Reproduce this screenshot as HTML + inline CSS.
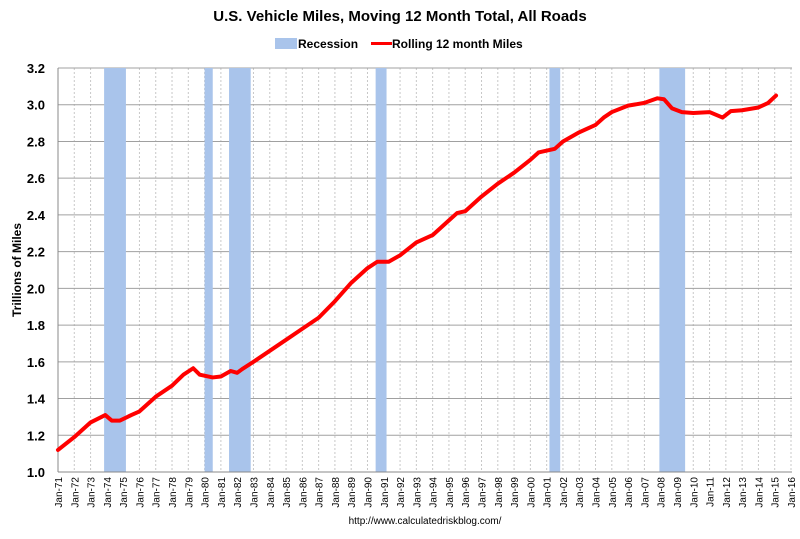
<!DOCTYPE html>
<html><head><meta charset="utf-8"><style>
body{margin:0;background:#fff;font-family:"Liberation Sans",sans-serif}
svg text{font-family:"Liberation Sans",sans-serif}
</style></head><body>
<svg id="c" width="800" height="534">
<text x="400" y="21" text-anchor="middle" font-size="15" font-weight="bold">U.S. Vehicle Miles, Moving 12 Month Total, All Roads</text>
<g>
<rect x="275" y="38" width="22" height="11" fill="#a9c4eb"/>
<text x="298" y="48" font-size="12" font-weight="bold">Recession</text>
<line x1="371" y1="43.5" x2="392" y2="43.5" stroke="#f00" stroke-width="3"/>
<text x="392" y="48" font-size="12" font-weight="bold">Rolling 12 month Miles</text>
</g>
<g id="plot"></g>
<text transform="translate(21,270) rotate(-90)" text-anchor="middle" font-size="12" font-weight="bold">Trillions of Miles</text>
<text x="425" y="524" text-anchor="middle" font-size="10">http://www.calculatedriskblog.com/</text>
</svg>
<script>
const recStart=[1973.83,1980.0,1981.5,1990.5,2001.17,2007.92];
const recEnd=[1975.17,1980.5,1982.83,1991.17,2001.83,2009.5];
const years=[1971,1972,1973,1973.9,1974.3,1974.8,1975.5,1976,1977,1978,1978.7,1979.3,1979.7,1980.5,1981,1981.6,1982,1982.3,1983,1984,1985,1986,1987,1988,1989,1990,1990.6,1991.3,1992,1993,1994,1995,1995.5,1996,1997,1998,1999,2000,2000.5,2001.5,2002,2003,2004,2004.5,2005,2006,2007,2007.8,2008.2,2008.7,2009.3,2010,2011,2011.8,2012.3,2013,2014,2014.6,2015.08];
const miles=[1.12,1.19,1.27,1.31,1.28,1.28,1.31,1.33,1.41,1.47,1.53,1.565,1.53,1.515,1.52,1.55,1.54,1.56,1.60,1.66,1.72,1.78,1.84,1.93,2.03,2.11,2.145,2.145,2.18,2.25,2.29,2.37,2.41,2.42,2.50,2.57,2.63,2.70,2.74,2.76,2.80,2.85,2.89,2.93,2.96,2.995,3.01,3.035,3.03,2.98,2.96,2.955,2.96,2.93,2.965,2.97,2.985,3.01,3.05];
const yTicks=[1.0,1.2,1.4,1.6,1.8,2.0,2.2,2.4,2.6,2.8,3.0,3.2];
const xYears=[];for(let y=1971;y<=2016;y++)xYears.push(y);
const X=v=>58+(v-1971)*(791-58)/45;
const Y=v=>472-(v-1)*(472-68)/2.2;
const g=document.getElementById('plot');const NS='http://www.w3.org/2000/svg';
function mk(t,a){const e=document.createElementNS(NS,t);for(const k in a)e.setAttribute(k,a[k]);g.appendChild(e);return e;}
xYears.forEach(y=>{const e=mk('line',{x1:X(y),x2:X(y),y1:68,y2:472,stroke:'#c8c8c8','stroke-dasharray':'2,2'});

});
yTicks.forEach(v=>{const e=mk('line',{x1:58,x2:792,y1:Y(v),y2:Y(v),stroke:'#a0a0a0'});


const t=mk('text',{x:45,y:Y(v)+5,'text-anchor':'end','font-size':'13','font-weight':'bold'});t.textContent=v.toFixed(1);

});
recStart.forEach((s,i)=>{const e=mk('rect',{x:X(s),y:68,width:X(recEnd[i])-X(s),height:404,fill:'#a9c4eb'});

});
const ax=mk('line',{x1:58,x2:58,y1:68,y2:472,stroke:'#888'});


const bx=mk('line',{x1:58,x2:792,y1:472,y2:472,stroke:'#888'});


xYears.forEach(y=>{const t=mk('text',{transform:`translate(${X(y)+4},477) rotate(-90)`,'text-anchor':'end','font-size':'10'});
t.textContent='Jan-'+String(y%100).padStart(2,'0');

});
const p=mk('polyline',{points:years.map((y,i)=>X(y)+','+Y(miles[i])).join(' '),fill:'none',stroke:'#f00','stroke-width':'4','stroke-linejoin':'round','stroke-linecap':'round'});


</script>
</body></html>
